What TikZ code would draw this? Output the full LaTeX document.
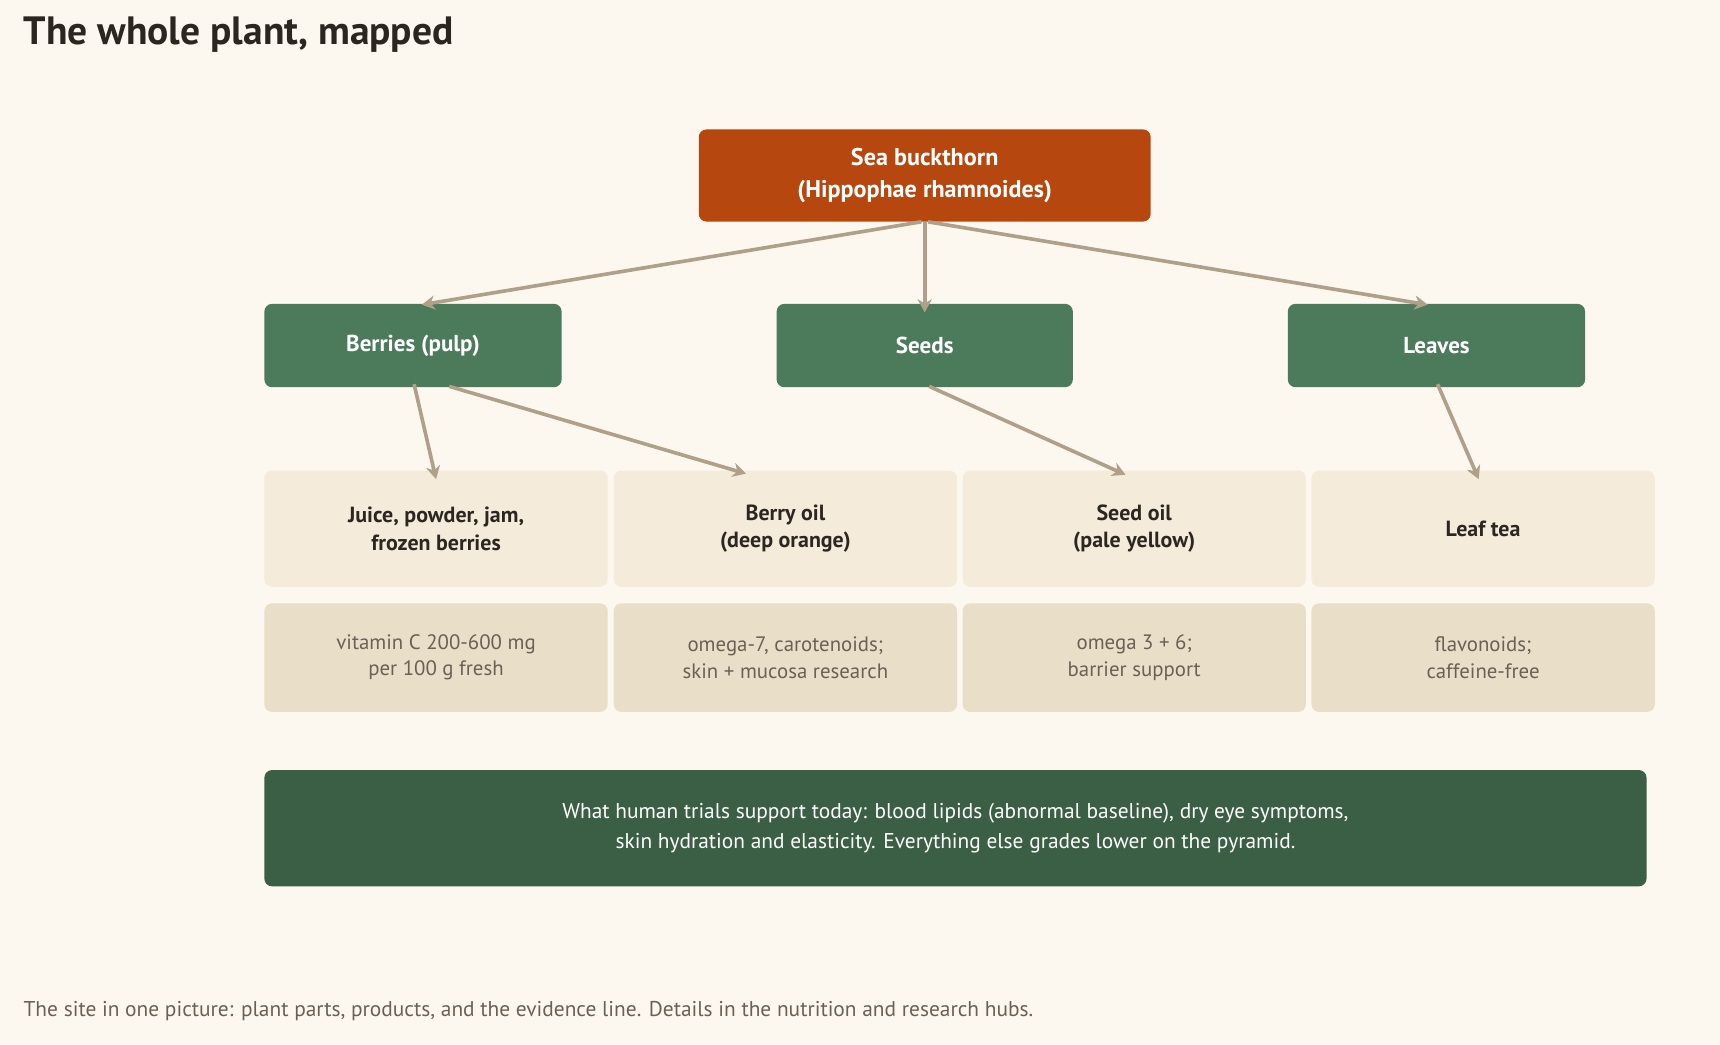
\documentclass[tikz,border=0pt]{standalone}
\usepackage{fontspec}
\setmainfont{PT Sans}
\usetikzlibrary{arrows.meta}
\definecolor{bg}{HTML}{FCF8F0}
\definecolor{root}{HTML}{B5470F}
\definecolor{grn}{HTML}{4B7B5A}
\definecolor{prod}{HTML}{F4EBDB}
\definecolor{det}{HTML}{E9DFC8}
\definecolor{dark}{HTML}{3A5F45}
\definecolor{ink}{HTML}{2B2620}
\definecolor{mut}{HTML}{6B6055}
\definecolor{arr}{HTML}{B0A08A}
\begin{document}
\begin{tikzpicture}[x=1pt,y=-1pt,
 box/.style={rounded corners=7pt,inner sep=0pt,align=center},
 rootb/.style={box,fill=root,text=white,font=\fontsize{22}{29}\selectfont\bfseries},
 part/.style={box,fill=grn,text=white,font=\fontsize{21}{27}\selectfont\bfseries},
 prodb/.style={box,fill=prod,text=ink,font=\fontsize{20}{25}\selectfont\bfseries},
 detb/.style={box,fill=det,text=mut,font=\fontsize{19}{24}\selectfont},
 ar/.style={draw=arr,line width=3.3pt,-{Stealth[length=12pt,width=13pt]}}]
\fill[bg] (0,0) rectangle (1568,952);
\useasboundingbox (0,0) rectangle (1568,952);
\node[anchor=west,text=ink,font=\fontsize{36}{40}\selectfont\bfseries] (title) at (18,32) {The whole plant, mapped};
\node[rootb,minimum width=412pt,minimum height=84pt] (r) at (843,160) {Sea buckthorn\\(Hippophae rhamnoides)};
\node[part,minimum width=271pt,minimum height=76pt] (b) at (376.5,315) {Berries (pulp)};
\node[part,minimum width=270pt,minimum height=76pt] (s) at (843,315) {Seeds};
\node[part,minimum width=271pt,minimum height=76pt] (l) at (1309.5,315) {Leaves};
\foreach \n/\x/\t in {p1/397.5/{Juice, powder, jam,\\frozen berries},p2/716/{Berry oil\\(deep orange)},p3/1034/{Seed oil\\(pale yellow)},p4/1352/{Leaf tea}}
 \node[prodb,minimum width=313pt,minimum height=106pt] (\n) at (\x,482) {\t};
\foreach \n/\x/\t in {d1/397.5/{vitamin C 200-600 mg\\per 100 g fresh},d2/716/{omega-7, carotenoids;\\skin + mucosa research},d3/1034/{omega 3 + 6;\\barrier support},d4/1352/{flavonoids;\\caffeine-free}}
 \node[detb,minimum width=313pt,minimum height=99pt] (\n) at (\x,599.5) {\t};
\node[box,fill=dark,text=white,font=\fontsize{19.5}{27}\selectfont,minimum width=1260pt,minimum height=106pt] (ev) at (871,755) {What human trials support today: blood lipids (abnormal baseline), dry eye symptoms,\\skin hydration and elasticity. Everything else grades lower on the pyramid.};
\node[anchor=west,text=mut,font=\fontsize{19.5}{24}\selectfont] (foot) at (18,922) {The site in one picture: plant parts, products, and the evidence line. Details in the nutrition and research hubs.};
\draw[ar] ([xshift=-3pt]r.south) -- ([xshift=8pt,yshift=-1pt]b.north);
\draw[ar] (r.south) -- ([yshift=-8pt]s.north);
\draw[ar] ([xshift=3pt]r.south) -- ([xshift=-8pt,yshift=-1pt]l.north);
\draw[ar] ([xshift=1pt,yshift=3pt]b.south) -- ([yshift=-8pt]p1.north);
\draw[ar] ([xshift=33pt,yshift=1pt]b.south) -- ([xshift=-36pt,yshift=-3pt]p2.north);
\draw[ar] ([xshift=4pt,yshift=1pt]s.south) -- ([xshift=-8pt,yshift=-4pt]p3.north);
\draw[ar] ([xshift=1pt,yshift=3pt]l.south) -- ([xshift=-4pt,yshift=-8pt]p4.north);
\end{tikzpicture}
\end{document}
